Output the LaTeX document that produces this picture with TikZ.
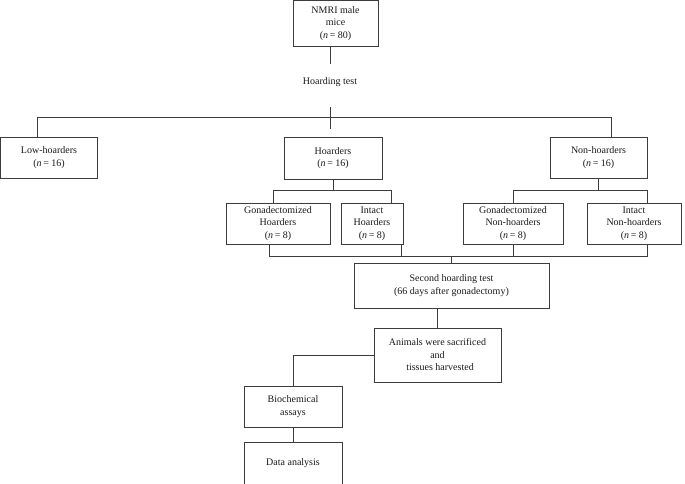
\documentclass[tikz,border=0pt]{standalone}
\usepackage{fontspec}
\setmainfont{Liberation Serif}
\usetikzlibrary{positioning, calc}
\definecolor{LineGray}{HTML}{3C3C3C}
\definecolor{TxtMain} {HTML}{1A1A1A}
\newcommand{\nn}[1]{(\textit{n}\,= #1)}

\begin{document}
\begin{tikzpicture}[x=1pt, y=-1pt,
    box/.style={draw=LineGray, line width=0.8pt, fill=white, align=center,
                inner sep=0pt, text=TxtMain, font=\fontsize{10}{12.5}\selectfont},
    link/.style={draw=LineGray, line width=0.8pt}]
      \useasboundingbox (0,0) rectangle (685,484);
      % ── Start: all mice ──
      \node[box, minimum width=85pt, minimum height=46pt] (mice) at (335.5,23.5)
        {NMRI male\\mice\\\nn{80}};
      \node[text=TxtMain, font=\fontsize{10}{12.5}\selectfont, inner sep=0pt] (test) at (330,82)
        {Hoarding test};
      % ── First split ──
      \node[box, minimum width=97pt, minimum height=41pt] (low) at (49,157.5)
        {Low-hoarders\\\nn{16}};
      \node[box, minimum width=98pt, minimum height=42pt] (hoard) at (333,158)
        {Hoarders\\\nn{16}};
      \node[box, minimum width=97pt, minimum height=41pt] (non) at (598.5,157.5)
        {Non-hoarders\\\nn{16}};
      % ── Second split ──
      \node[box, minimum width=104pt, minimum height=41pt] (gh) at (278,223.5)
        {Gonadectomized\\Hoarders\\\nn{8}};
      \node[box, minimum width=62pt, minimum height=41pt] (ih) at (372,223.5)
        {Intact\\Hoarders\\\nn{8}};
      \node[box, minimum width=100pt, minimum height=41pt] (gn) at (513,223.5)
        {Gonadectomized\\Non-hoarders\\\nn{8}};
      \node[box, minimum width=94pt, minimum height=41pt] (in) at (634,223.5)
        {Intact\\Non-hoarders\\\nn{8}};
      % ── Follow-up steps ──
      \node[box, minimum width=195pt, minimum height=45pt] (second) at (451.5,285.5)
        {Second hoarding test\\(66 days after gonadectomy)};
      \node[box, minimum width=127pt, minimum height=54pt] (animals) at (437.5,355)
        {Animals were sacrificed\\and\\\ \ tissues harvested};
      \node[box, minimum width=98pt, minimum height=41pt] (bio) at (293,406.5)
        {Biochemical\\assays};
      \node[box, minimum width=98pt, minimum height=42pt] (data) at (293,463)
        {Data analysis};

      % ── Connectors ──
      \coordinate (t1) at (330,64);
      \coordinate (t2) at (330,107);
      \coordinate (t3) at (330,129);
      \coordinate (barL) at (37,117);
      \coordinate (barR) at (611,117);
      \coordinate (hbL) at (273,190);
      \coordinate (hbR) at (391,190);
      \coordinate (nbR) at (647,190);
      \coordinate (bbL) at (269,256);
      \coordinate (bbR) at (647,256);
      \coordinate (ihs) at (401,256);

      \draw[link] (mice.south -| t1) -- (t1);
      \draw[link] (t2) -- (t3);
      \draw[link] (low.north -| barL) -- (barL) -- (barR) -- (non.north -| barR);

      \draw[link] (hoard.south) -- (hoard.south |- hbL);
      \draw[link] (gh.north -| hbL) -- (hbL) -- (hbR) -- (ih.north -| hbR);

      \draw[link] (non.south) -- (non.south |- nbR);
      \draw[link] (gn.north) -- (gn.north |- nbR) -- (nbR) -- (in.north -| nbR);

      \draw[link] (gh.south -| bbL) -- (bbL) -- (bbR) -- (in.south -| bbR);
      \draw[link] (ih.south -| ihs) -- (ihs);
      \draw[link] (gn.south) -- (gn.south |- bbR);
      \draw[link] (second.north) -- (second.north |- bbR);

      \draw[link] (second.south -| animals.north) -- (animals.north);
      \draw[link] (animals.west) -| (bio.north);
      \draw[link] (bio.south) -- (data.north);
    \end{tikzpicture}
\end{document}
